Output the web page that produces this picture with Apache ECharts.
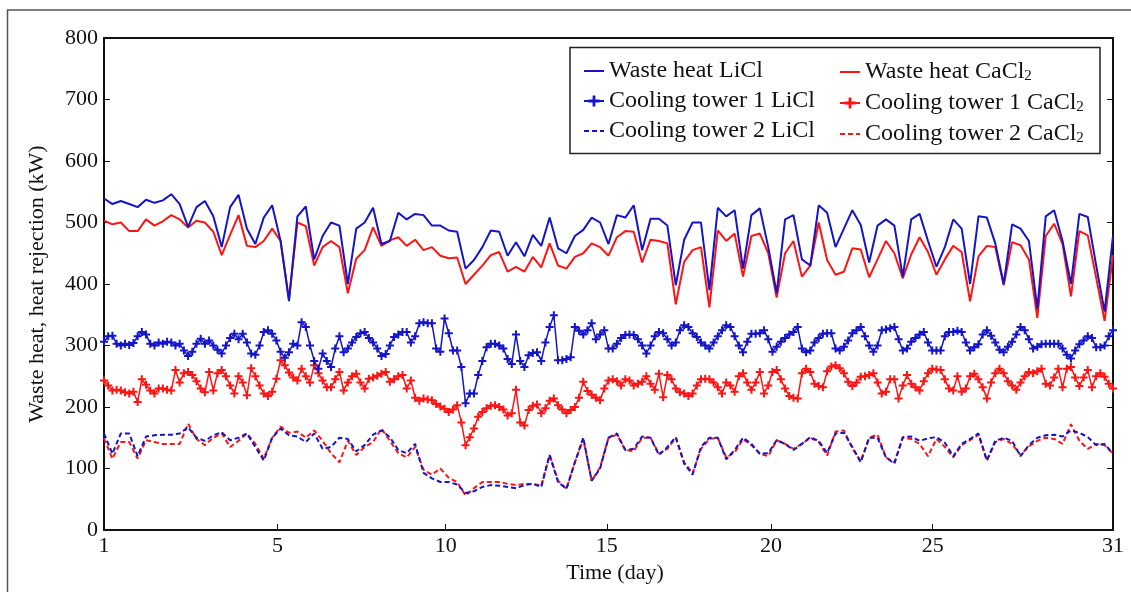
<!DOCTYPE html>
<html>
<head>
<meta charset="utf-8">
<script src="https://cdn.jsdelivr.net/npm/echarts@6/dist/echarts.min.js"></script>
<style>
html,body{margin:0;padding:0;background:#fff;}
#chart{width:1131px;height:592px;}
</style>
</head>
<body>
<div id="chart"></div>
<script>
// Elapsed time (days from start): waste heat and tower 2 every 6 h, tower 1 every 3 h
const timeDays = [];
for (let i = 0; i <= 120; i++) timeDays.push(i * 0.25);
const timeDays3h = [];
for (let i = 0; i <= 240; i++) timeDays3h.push(i * 0.125);

// x tick positions (elapsed days) and their printed labels
const xTickValues = [0, 5.16, 10.16, 14.95, 19.83, 24.64, 30];
const xTickLabels = ['1', '5', '10', '15', '20', '25', '31'];

const wasteHeatLiCl = [
539,530,535,530,525,537,532,536,546,530,
493,525,535,510,460,525,545,490,465,508,
528,470,372,510,526,440,478,500,495,400,
490,500,524,465,470,516,505,514,512,495,
495,487,485,425,439,460,487,485,446,468,
445,480,462,508,458,450,478,488,508,500,
465,512,508,528,455,506,506,495,398,472,
500,500,390,524,510,520,425,512,523,460,
385,505,512,440,430,528,516,460,490,520,
496,435,495,505,495,412,505,514,470,428,
460,505,490,400,510,508,466,400,497,490,
470,360,510,520,470,400,514,509,430,355,
478];

const wasteHeatCaCl2 = [
503,497,500,486,486,505,495,502,512,505,
492,503,500,485,447,480,512,462,460,470,
490,470,375,500,494,430,460,470,460,385,
441,455,492,462,471,476,462,472,455,460,
446,442,443,400,415,430,447,452,420,428,
420,444,427,466,430,425,444,450,466,460,
446,476,486,485,435,472,470,466,367,436,
455,460,362,487,470,482,412,478,482,450,
378,450,470,412,430,500,439,415,420,458,
456,411,440,470,450,409,448,476,452,415,
440,462,452,372,445,462,460,398,468,463,
440,345,478,498,465,380,486,479,410,340,
447];

const tower1LiCl = [
306,315,316,303,300,303,301,304,315,322,
318,303,300,305,303,306,305,300,303,292,
283,290,303,311,303,308,300,293,287,300,
312,319,310,319,305,287,285,300,322,325,
319,308,290,280,289,303,300,338,330,300,
275,262,287,275,265,295,315,289,295,305,
314,320,322,312,305,295,283,286,300,314,
318,322,322,305,315,336,338,336,336,295,
290,344,320,292,292,265,206,222,222,252,
275,297,303,303,300,295,278,270,318,275,
265,284,288,289,275,305,330,349,276,276,
278,281,330,324,318,325,336,310,318,325,
295,295,303,312,317,318,317,310,300,287,
300,315,322,320,310,300,305,325,333,330,
320,314,305,300,295,305,315,325,333,330,
315,300,289,306,319,319,320,325,310,290,
298,306,312,318,322,330,295,289,292,305,
312,319,320,320,295,292,298,308,320,325,
330,315,300,290,300,325,326,328,330,310,
292,295,306,312,318,322,305,292,292,292,
315,322,322,324,322,305,292,297,302,318,
325,316,305,293,289,298,306,318,330,325,
310,295,298,302,303,303,303,303,295,285,
279,292,302,308,315,312,297,297,300,315,
325];

const tower1CaCl2 = [
243,235,227,228,227,224,222,225,208,245,
236,227,222,230,230,228,227,260,240,255,
257,252,242,230,224,257,227,255,260,250,
235,222,250,240,219,263,250,235,222,218,
225,246,276,268,256,248,243,262,250,240,
268,255,243,232,232,245,257,227,240,250,
254,240,230,246,248,251,254,257,241,245,
250,252,230,243,215,210,214,212,211,205,
201,197,192,196,203,175,138,151,165,184,
192,198,202,203,200,196,186,190,228,175,
170,195,202,204,190,198,210,214,203,196,
190,195,200,215,241,226,220,215,211,230,
243,245,242,235,245,243,235,238,241,250,
238,228,254,216,252,245,230,224,222,218,
222,235,245,246,245,240,232,222,240,235,
225,250,255,240,228,240,257,222,235,257,
260,245,230,218,215,214,255,262,257,238,
234,232,258,266,268,263,255,241,234,240,
249,250,252,255,240,222,225,245,245,214,
235,252,238,232,227,242,255,262,261,260,
245,230,227,250,225,230,250,254,245,232,
214,240,255,262,255,242,235,228,240,250,
257,255,258,262,238,235,248,262,232,262,
265,248,234,248,260,232,250,255,249,238,
230];

const tower2LiCl = [
157,124,157,157,120,152,154,155,155,157,
167,150,145,154,159,146,150,157,135,113,
150,165,154,152,143,157,132,135,150,148,
128,138,155,162,151,130,125,140,93,84,
78,78,74,60,63,70,73,72,70,68,
73,75,70,122,78,67,110,150,80,100,
150,157,130,132,152,150,122,135,151,108,
90,135,150,150,115,130,150,140,124,125,
146,140,130,140,151,145,125,157,158,135,
110,150,150,118,108,151,152,145,149,151,
142,120,140,148,157,113,145,150,145,120,
138,150,154,155,152,162,158,151,138,140,
124];

const tower2CaCl2 = [
149,116,143,143,116,146,143,140,140,140,
173,148,138,150,157,135,145,157,140,116,
150,168,158,160,150,162,145,125,110,145,
122,135,143,165,145,125,118,135,98,90,
100,85,78,56,68,78,78,78,75,73,
75,75,72,122,80,67,110,148,80,102,
150,155,130,128,150,150,124,132,150,110,
92,132,148,150,118,126,148,138,124,120,
146,140,132,140,150,143,121,160,162,133,
112,150,155,118,110,150,148,140,120,148,
135,118,138,146,155,113,143,148,140,122,
136,145,150,148,140,172,145,132,140,138,
124];

const BLUE = '#1414c8';
const RED = '#ff1414';
const FONT = '"Liberation Serif", "Times New Roman", serif';
const PLUS = 'path://M3,0 H5 V3 H8 V5 H5 V8 H3 V5 H0 V3 H3 Z';

function pairs(times, vals) { return vals.map((v, i) => [times[i], v]); }

const chart = echarts.init(document.getElementById('chart'), null, {renderer: 'canvas'});

const noSymbol = { itemStyle: { opacity: 0 } };
const legendCommon = {
  orient: 'vertical',
  top: 59,
  itemWidth: 20,
  itemHeight: 14,
  itemGap: 6,
  padding: 0,
  textStyle: {
    fontFamily: FONT, fontSize: 24, color: '#111', lineHeight: 24,
    rich: { sub: { fontFamily: FONT, fontSize: 15, color: '#111', lineHeight: 24, verticalAlign: 'bottom', padding: [10, 0, 0, 0] } }
  },
  formatter: function (name) { return name.replace('CaCl2', 'CaCl{sub|2}'); }
};

const axisText = { fontFamily: FONT, fontSize: 22, color: '#111' };

const option = {
  animation: false,
  backgroundColor: '#fff',
  grid: { left: 104, right: 18, top: 38, bottom: 62, containLabel: false },
  xAxis: [{
    type: 'value', min: 0, max: 30, position: 'bottom',
    name: 'Time (day)', nameLocation: 'middle', nameGap: 28,
    nameTextStyle: Object.assign({ padding: [0, 0, 0, 13] }, axisText),
    axisLine: { show: true, onZero: false, lineStyle: { color: '#111', width: 2 } },
    axisTick: { show: true, inside: true, length: 6, customValues: xTickValues, lineStyle: { color: '#111', width: 1 } },
    axisLabel: Object.assign({ margin: 5, customValues: xTickValues,
      formatter: function (v) { const k = xTickValues.indexOf(v); return k >= 0 ? xTickLabels[k] : ''; } }, axisText),
    splitLine: { show: false }
  }, {
    type: 'value', min: 0, max: 30, position: 'top',
    axisLine: { show: true, onZero: false, lineStyle: { color: '#111', width: 2 } },
    axisTick: { show: false }, axisLabel: { show: false }, splitLine: { show: false }
  }],
  yAxis: [{
    type: 'value', min: 0, max: 800, interval: 100, position: 'left',
    name: 'Waste heat, heat rejection (kW)', nameLocation: 'middle', nameGap: 56,
    nameTextStyle: axisText,
    axisLine: { show: true, onZero: false, lineStyle: { color: '#111', width: 2 } },
    axisTick: { show: true, inside: true, length: 6, lineStyle: { color: '#111', width: 1 } },
    axisLabel: Object.assign({ margin: 6 }, axisText),
    splitLine: { show: false }
  }, {
    type: 'value', min: 0, max: 800, interval: 100, position: 'right',
    axisLine: { show: true, onZero: false, lineStyle: { color: '#111', width: 2 } },
    axisTick: { show: true, inside: true, length: 6, lineStyle: { color: '#111', width: 1 } },
    axisLabel: { show: false }, splitLine: { show: false }
  }],
  legend: [
    Object.assign({}, legendCommon, { left: 583, data: [
      Object.assign({ name: 'Waste heat LiCl' }, noSymbol),
      { name: 'Cooling tower 1 LiCl' },
      Object.assign({ name: 'Cooling tower 2 LiCl' }, noSymbol)
    ] }),
    Object.assign({}, legendCommon, { left: 839, data: [
      Object.assign({ name: 'Waste heat CaCl2' }, noSymbol),
      { name: 'Cooling tower 1 CaCl2' },
      Object.assign({ name: 'Cooling tower 2 CaCl2' }, noSymbol)
    ] })
  ],
  graphic: [
    { type: 'rect', shape: { x: 7.5, y: 10, width: 1300, height: 800 }, style: { fill: 'none', stroke: '#555', lineWidth: 1.5 }, silent: true, z: -1 },
    { type: 'rect', shape: { x: 570, y: 47.5, width: 530, height: 106 }, style: { fill: '#fff', stroke: '#222', lineWidth: 1.5 }, silent: true, z: 0 }
  ],
  series: [
    { name: 'Waste heat CaCl2', type: 'line', data: pairs(timeDays, wasteHeatCaCl2), symbol: 'none', color: RED, lineStyle: { width: 2, color: RED } },
    { name: 'Waste heat LiCl', type: 'line', data: pairs(timeDays, wasteHeatLiCl), symbol: 'none', color: BLUE, lineStyle: { width: 2, color: BLUE } },
    { name: 'Cooling tower 1 CaCl2', type: 'line', data: pairs(timeDays3h, tower1CaCl2), symbol: PLUS, symbolSize: 8, showAllSymbol: true, color: RED, itemStyle: { color: RED }, lineStyle: { width: 1.5, color: RED } },
    { name: 'Cooling tower 1 LiCl', type: 'line', data: pairs(timeDays3h, tower1LiCl), symbol: PLUS, symbolSize: 8, showAllSymbol: true, color: BLUE, itemStyle: { color: BLUE }, lineStyle: { width: 1.5, color: BLUE } },
    { name: 'Cooling tower 2 CaCl2', type: 'line', data: pairs(timeDays, tower2CaCl2), symbol: 'none', color: RED, lineStyle: { width: 2, color: RED, type: [5, 3] } },
    { name: 'Cooling tower 2 LiCl', type: 'line', data: pairs(timeDays, tower2LiCl), symbol: 'none', color: BLUE, lineStyle: { width: 2, color: BLUE, type: [5, 3] } }
  ]
};
chart.setOption(option);
</script>
</body>
</html>
